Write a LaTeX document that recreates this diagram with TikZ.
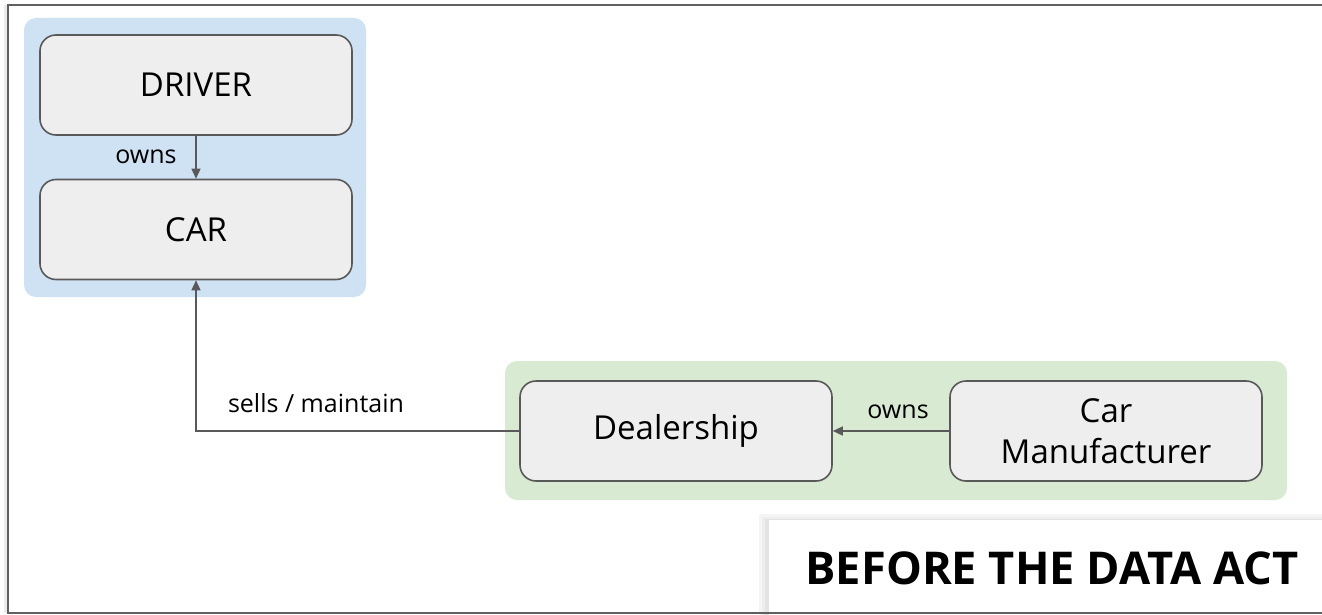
\documentclass[tikz,border=0pt]{standalone}
\usepackage{fontspec}
\setmainfont{Open Sans}
\usetikzlibrary{arrows.meta}
\definecolor{panelblue}{HTML}{CFE2F3}
\definecolor{panelgreen}{HTML}{D9EAD3}
\definecolor{boxfill}{HTML}{EEEEEE}
\definecolor{boxline}{HTML}{595959}
\definecolor{frameline}{HTML}{606060}
\tikzset{
  panel/.style={rounded corners=6pt, draw=none},
  entity/.style={draw=boxline, line width=0.8pt, fill=boxfill, rounded corners=8pt,
    minimum width=156pt, minimum height=50pt, inner sep=0pt, align=center,
    font=\fontsize{16.5pt}{20.5pt}\selectfont},
  conn/.style={draw=boxline, line width=0.7pt, -{Triangle[length=5pt,width=4.5pt]}},
  lbl/.style={font=\fontsize{12.5pt}{14pt}\selectfont, inner sep=0pt},
}
\begin{document}
\begin{tikzpicture}[x=0.5pt,y=-0.5pt]
\useasboundingbox (0,0) rectangle (1322,615);
\fill[white] (0,0) rectangle (1322,615);
% frame shadow and frame
\fill[black!8] (4,5) rectangle (8,613);
\draw[frameline, line width=1.1pt] (1330,5) -- (8,5) -- (8,613) -- (1330,613);
% panels
\fill[panelblue, panel] (24,18) rectangle (366,297);
\fill[panelgreen, panel] (505,361) rectangle (1287,500);
% entities
\node[entity] (driver) at (196,85) {\raisebox{-1pt}{DRIVER}};
\node[entity] (car) at (196,229.5) {CAR};
\node[entity] (deal) at (676,431) {\raisebox{-1pt}{Dealership}};
\node[entity] (manu) at (1106,431) {Car\\Manufacturer};
% connectors
\draw[conn] (driver.south) -- (car.north);
\node[lbl] (l1) at (146,157) {owns};
\draw[conn] (manu.west) -- (deal.east);
\node[lbl] (l2) at (898,412) {owns};
\draw[conn] (deal.west) -- (196,431) -- (car.south);
\node[lbl] (l3) at (316,403) {sells / maintain};
% title box with soft shadow
\fill[black!4] (759,514) rectangle (1330,616);
\fill[black!7] (762,517) rectangle (1330,616);
\fill[black!11] (765,519) rectangle (1330,616);
\node[fill=white, minimum width=280pt, minimum height=48pt, inner sep=0pt, anchor=north west] (titlebox) at (769,520) {};
\node[font=\bfseries\fontsize{22.6pt}{26pt}\selectfont, inner sep=0pt] (title) at (1052,568) {BEFORE THE DATA ACT};
\draw[frameline, line width=1.1pt] (759,613) -- (1330,613);
\end{tikzpicture}
\end{document}
